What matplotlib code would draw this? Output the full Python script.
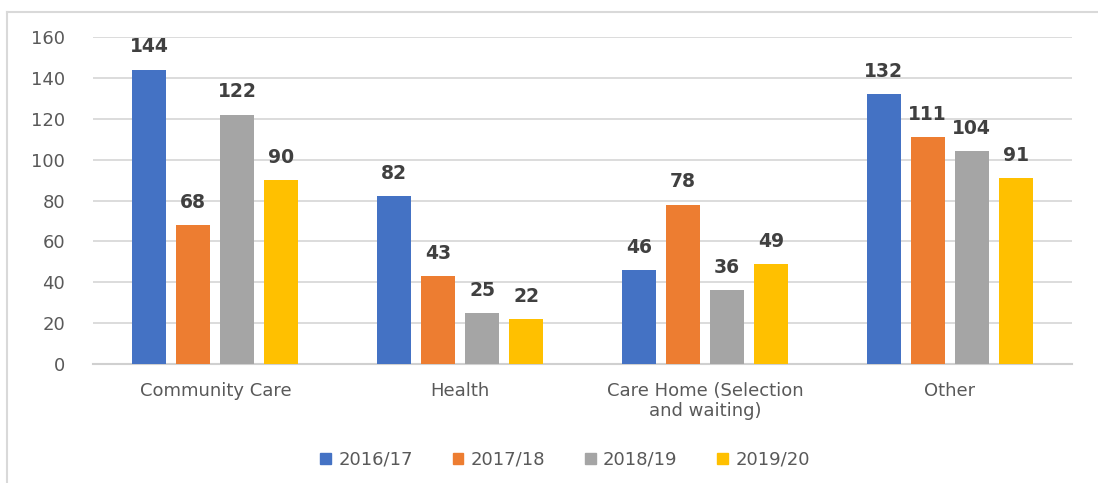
import matplotlib
matplotlib.use("Agg")
import matplotlib.pyplot as plt
from matplotlib.patches import Rectangle
from matplotlib.lines import Line2D
import numpy as np

categories = ["Community Care", "Health", "Care Home (Selection\nand waiting)", "Other"]
series_names = ["2016/17", "2017/18", "2018/19", "2019/20"]
v2016 = [144, 82, 46, 132]
v2017 = [68, 43, 78, 111]
v2018 = [122, 25, 36, 104]
v2019 = [90, 22, 49, 91]
yticks = [0, 20, 40, 60, 80, 100, 120, 140, 160]

values = [v2016, v2017, v2018, v2019]
colors = ["#4472C4", "#ED7D31", "#A5A5A5", "#FFC000"]

W, H = 1098, 483
fig = plt.figure(figsize=(W / 100, H / 100), dpi=100)
ax = fig.add_axes([93 / W, 1 - 364 / H, (1072 - 93) / W, (364 - 37) / H])

x = np.arange(len(categories))
step = 0.18
width = 0.139
for i, (vals, c) in enumerate(zip(values, colors)):
    pos = x + (i - 1.5) * step
    ax.bar(pos, vals, width=width, color=c, zorder=3, label=series_names[i])
    for p, v in zip(pos, vals):
        ax.text(p, v + 6.5, str(v), ha="center", va="bottom", fontsize=13.5,
                fontweight="bold", color="#404040", zorder=4)

ax.set_xlim(-0.5, 3.5)
ax.set_ylim(0, 160)
ax.set_yticks(yticks)
ax.set_yticklabels([str(t) for t in yticks], fontsize=13, color="#595959")
ax.set_xticks(x)
ax.set_xticklabels(categories, fontsize=13, color="#595959", linespacing=1.15)
ax.tick_params(axis="both", length=0)
ax.tick_params(axis="y", pad=20)
ax.tick_params(axis="x", pad=13)
ax.grid(axis="y", color="#D9D9D9", linewidth=1.3, zorder=0)
for s in ["top", "right", "left"]:
    ax.spines[s].set_visible(False)
ax.spines["bottom"].set_color("#D0D0D0")
ax.spines["bottom"].set_linewidth(1.5)

handles = [Rectangle((0, 0), 1, 1, color=c) for c in colors]
fig.legend(handles, series_names, loc="center", bbox_to_anchor=(565 / W, 1 - 460 / H),
           ncol=4, frameon=False, fontsize=13, handlelength=0.6, handleheight=0.6,
           handletextpad=0.4, columnspacing=2.2, labelcolor="#595959")

# outer chart border
fig.add_artist(Line2D([7 / W, 1.0], [1 - 12 / H, 1 - 12 / H], transform=fig.transFigure,
                      color="#D9D9D9", linewidth=1.5))
fig.add_artist(Line2D([7 / W, 7 / W], [0, 1 - 12 / H], transform=fig.transFigure,
                      color="#D9D9D9", linewidth=1.5))

fig.savefig("out.png", dpi=100)
